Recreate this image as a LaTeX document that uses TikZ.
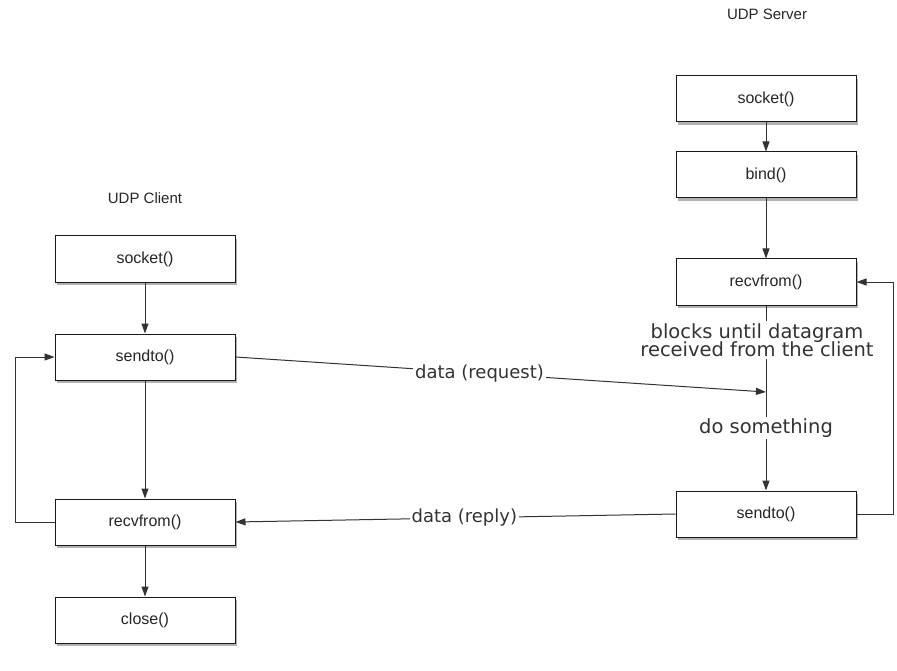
\documentclass[tikz,border=0pt]{standalone}
\usepackage{fontspec}
\setmainfont{Liberation Sans}
\newfontfamily\dvs{DejaVu Sans}
\usetikzlibrary{arrows.meta,shadows}
\begin{document}
\begin{tikzpicture}[x=1pt,y=-1pt,
  box/.style={draw=black!90,line width=1pt,fill=white,minimum width=180pt,minimum height=46pt,
    font=\fontsize{16}{18}\selectfont,text=black!85,
    drop shadow={shadow xshift=2pt,shadow yshift=-3pt,opacity=0.5,fill=black!60}},
  title/.style={font=\fontsize{15}{17}\selectfont,text=black!85},
  arr/.style={draw=black!80,line width=1pt,-{Triangle[length=10pt,width=7pt]}},
  lbl/.style={font=\dvs\fontsize{18}{21}\selectfont,text=black!80,fill=white,inner sep=2pt,align=center},
  slbl/.style={lbl,font=\dvs\fontsize{19.5}{22}\selectfont}]
\useasboundingbox (0,0) rectangle (897,671);
% server
\node[title] (stitle) at (767,14) {UDP Server};
\node[box] (ssock) at (766,99) {socket()};
\node[box] (sbind) at (766,175) {bind()};
\node[box] (srecv) at (766,282) {recvfrom()};
\node[box] (ssend) at (766,514) {sendto()};
% client
\node[title] (ctitle) at (145,198) {UDP Client};
\node[box] (csock) at (145,259) {socket()};
\node[box] (csend) at (145,357) {sendto()};
\node[box] (crecv) at (145,522) {recvfrom()};
\node[box] (cclose) at (145,620) {close()};
% server arrows
\draw[arr] (ssock) -- (sbind);
\draw[arr] (sbind) -- (srecv);
\draw[arr] (srecv) -- (ssend);
\node[slbl] (blk) at (757,340) {blocks until datagram\\[-4pt]received from the client};
\node[slbl] (dos) at (766,428) {do something};
\draw[arr] (ssend.east) -- ++(37,0) |- (srecv.east);
% client arrows
\draw[arr] (csock) -- (csend);
\draw[arr] (csend) -- (crecv);
\draw[arr] (crecv) -- (cclose);
\draw[arr] (crecv.west) -- ++(-39,0) |- (csend.west);
% data
\coordinate (hit) at (766,392);
\draw[arr] (csend.east) -- node[lbl,pos=0.46] (req) {data (request)} (hit);
\draw[arr] (ssend.west) -- node[lbl,pos=0.48] (rep) {data (reply)} (crecv.east);
\end{tikzpicture}
\end{document}
